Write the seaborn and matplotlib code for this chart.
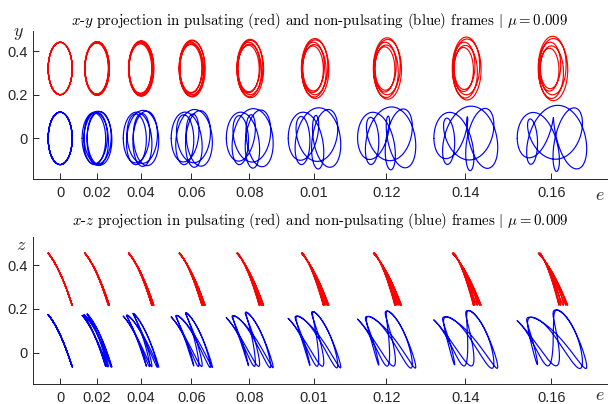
import numpy as np
import pandas as pd
import matplotlib
matplotlib.use("Agg")
import matplotlib.pyplot as plt
import seaborn as sns

# Orbital eccentricities of the primaries and the tick labels shown on the e axis
ecc = [0.0, 0.02, 0.04, 0.06, 0.08, 0.10, 0.12, 0.14, 0.16]
e_tick_labels = ["0", "0.02", "0.04", "0.06", "0.08", "0.01", "0.12", "0.14", "0.16"]
# Horizontal placement of each orbit along the e axis
frame_x = [0.0, 0.168, 0.369, 0.601, 0.866, 1.162, 1.492, 1.854, 2.248]

# Halo-type orbit about the libration point (x half-width, y half-height, z profile)
halo_ax = 0.055
halo_ay = 0.12
halo_z_mid = 0.081
halo_z_lin = 0.119
halo_z_quad = 0.026
x_libration = 0.687          # distance of the orbit centre from the barycentre
period_ratio = 0.4           # primary revolutions per halo revolution
n_halo_rev = 5               # halo revolutions integrated (f from 0 to 4*pi)
pulse_gain = 1.5             # amplitude modulation of the pulsating-frame orbit
shift_xy = 0.32              # vertical offset of the red curves, x-y panel
shift_xz = 0.28              # vertical offset of the red curves, x-z panel
mu = 0.009


def orbit(e, n=2400):
    s = np.linspace(0.0, n_halo_rev, n)
    th = 2 * np.pi * s
    f = 2 * np.pi * period_ratio * s
    amp = 1 + pulse_gain * e * np.sin(f)
    xp = -halo_ax * amp * np.cos(th) + 0.6 * halo_ax * (amp - 1)
    yp = halo_ay * amp * np.sin(th)
    zp = halo_z_mid + halo_z_lin * np.cos(th) - halo_z_quad * np.cos(th) ** 2
    r = (1 - e ** 2) / (1 + e * np.cos(f))
    xn = r * (x_libration + xp) - x_libration
    return xp, yp, zp, xn, r * yp, r * zp


sns.set_theme(style="ticks")
plt.rcParams["font.family"] = ["Liberation Sans", "DejaVu Sans"]
plt.rcParams["mathtext.fontset"] = "cm"

fig = plt.figure(figsize=(6.08, 4.04), dpi=100)
ax_xy = fig.add_axes([0.0548, 0.5569, 0.9436, 0.3671])
ax_xz = fig.add_axes([0.0548, 0.0502, 0.9436, 0.3639])

for e, x0 in zip(ecc, frame_x):
    xp, yp, zp, xn, yn, zn = orbit(e)
    sns.lineplot(x=x0 + xp, y=yp + shift_xy, sort=False, estimator=None,
                 color="#ff0000", linewidth=0.85, ax=ax_xy)
    sns.lineplot(x=x0 + xn, y=yn, sort=False, estimator=None,
                 color="#0000ff", linewidth=0.85, ax=ax_xy)
    sns.lineplot(x=x0 + xp, y=zp + shift_xz, sort=False, estimator=None,
                 color="#ff0000", linewidth=0.85, ax=ax_xz)
    sns.lineplot(x=x0 + xn, y=zn, sort=False, estimator=None,
                 color="#0000ff", linewidth=0.85, ax=ax_xz)

ink = "#262626"
for ax, ylim in ((ax_xy, (-0.186, 0.493)), (ax_xz, (-0.141, 0.529))):
    ax.set_xlim(-0.123, 2.503)
    ax.set_ylim(*ylim)
    ax.set_xticks(frame_x)
    ax.set_xticklabels(e_tick_labels)
    ax.set_yticks([0, 0.2, 0.4])
    ax.set_yticklabels(["0", "0.2", "0.4"])
    ax.set_xlabel("")
    ax.set_ylabel("")
    sns.despine(ax=ax)
    for side in ("left", "bottom"):
        ax.spines[side].set_color(ink)
        ax.spines[side].set_linewidth(0.7)
    ax.tick_params(direction="in", length=4.2, width=0.7, color=ink,
                   labelcolor=ink, labelsize=10.5)
    ax.tick_params(axis="x", pad=5)
    ax.tick_params(axis="y", pad=4)

title_kw = dict(ha="center", va="center", fontsize=10.7, family="cmr10", color="black")
fig.text(320 / 608, 1 - 21 / 404,
         r"$x$-$y$ projection in pulsating (red) and non-pulsating (blue) frames $|$ $\mu = 0.009$",
         **title_kw)
fig.text(320 / 608, 1 - 221 / 404,
         r"$x$-$z$ projection in pulsating (red) and non-pulsating (blue) frames $|$ $\mu = 0.009$",
         **title_kw)

lab_kw = dict(ha="center", va="center", fontsize=13, color=ink)
fig.text(18 / 608, 1 - 33 / 404, r"$y$", **lab_kw)
fig.text(21 / 608, 1 - 246 / 404, r"$z$", **lab_kw)
fig.text(600 / 608, 1 - 195 / 404, r"$e$", **lab_kw)
fig.text(600 / 608, 1 - 395 / 404, r"$e$", **lab_kw)

fig.savefig("out.png", dpi=100)
